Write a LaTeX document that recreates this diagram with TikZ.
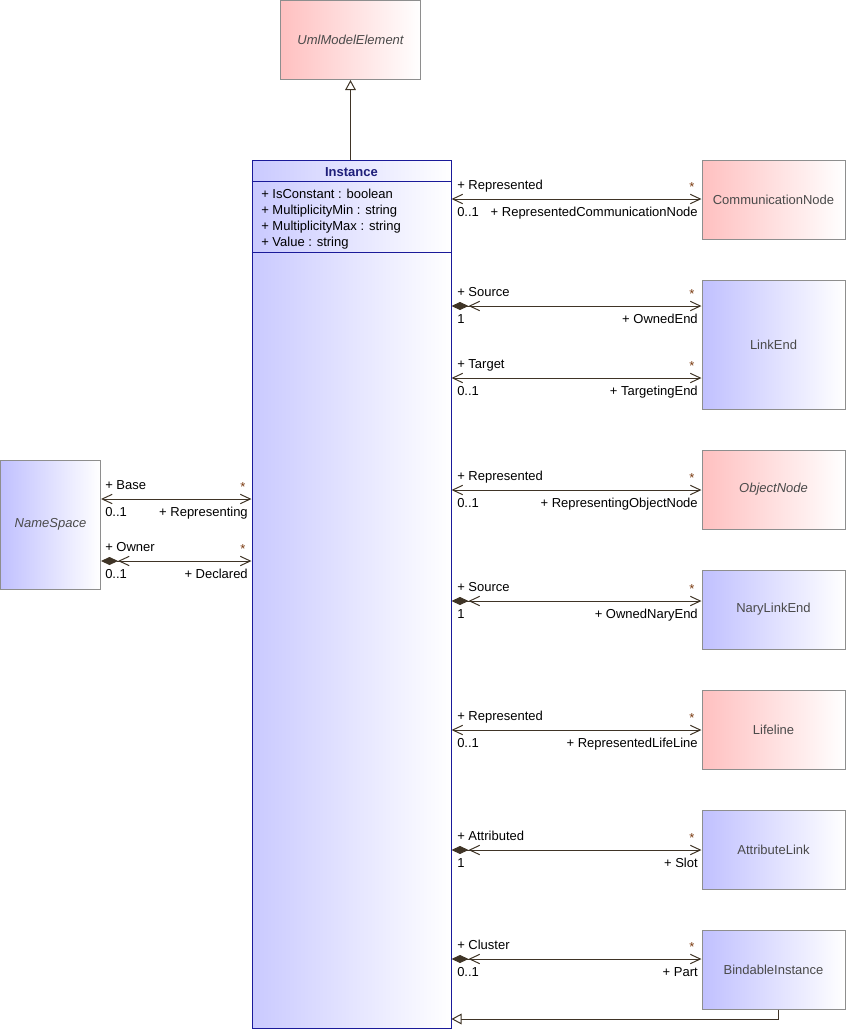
\documentclass[tikz,border=0pt]{standalone}
\usepackage{fontspec}
\setmainfont{Liberation Sans}
\usetikzlibrary{arrows.meta,calc}
\definecolor{linec}{HTML}{3F3426}
\definecolor{boxborder}{HTML}{8E8E8E}
\definecolor{clstext}{HTML}{4A4A4A}
\definecolor{pinkL}{HTML}{FFC0C0}
\definecolor{blueL}{HTML}{C0C0FF}
\definecolor{navyb}{HTML}{1A1A9A}
\definecolor{navyt}{HTML}{1E1E7A}
\definecolor{starc}{HTML}{7A3A10}
\newcommand{\rassoc}[7]{%
  \draw[#1] (inst.east |- 0,#2) -- (#3.west |- 0,#2);
  \node[lbl, anchor=base west] at (457,{#2-10}) {#4};
  \node[lbl, anchor=base west] at (457,{#2+17.5}) {#5};
  \node[starl, anchor=base] at (692,{#2-8}) {#6};
  \node[lbl, anchor=base east] at (698,{#2+17.5}) {#7};
}
\newcommand{\lassoc}[7]{%
  \draw[#1] (#3.east |- 0,#2) -- (inst.west |- 0,#2);
  \node[lbl, anchor=base west] at (105,{#2-10}) {#4};
  \node[lbl, anchor=base west] at (105,{#2+17.5}) {#5};
  \node[starl, anchor=base] at (243,{#2-8}) {#6};
  \node[lbl, anchor=base east] at (248,{#2+17.5}) {#7};
}
\begin{document}
\begin{tikzpicture}[x=0.75pt,y=-0.75pt,
  every node/.style={font=\fontsize{9.75}{11}\selectfont},
  cls/.style={draw=boxborder, line width=0.75pt, minimum height=59.25pt, text=clstext, inner sep=0pt},
  pinkbox/.style={cls, left color=pinkL, right color=white},
  bluebox/.style={cls, left color=blueL, right color=white},
  rbox/.style={minimum width=107.25pt},
  abstr/.style={font=\fontsize{9.75}{11}\selectfont\itshape},
  lbl/.style={inner sep=0pt, text=black},
  starl/.style={inner sep=0pt, text=starc},
  nav/.style={draw=linec, line width=0.75pt,
    {Straight Barb[length=7.5pt,width=7pt]}-{Straight Barb[length=7.5pt,width=7pt]}},
  comp/.style={draw=linec, line width=0.75pt,
    {Diamond[length=12.75pt,width=6pt] Straight Barb[length=7.5pt,width=7pt]}-{Straight Barb[length=7.5pt,width=7pt]}},
  gen/.style={draw=linec, line width=0.75pt, -{Triangle[open,length=7.5pt,width=8pt,fill=white]}}
]
\useasboundingbox (0,0) rectangle (846,1036);

% classes
\node[pinkbox, minimum width=105pt, abstr] (uml) at (350.5,40) {UmlModelElement};
\node[draw=navyb, line width=0.75pt, left color=blueL!85!white, right color=white,
      minimum width=149.25pt, minimum height=651pt, inner sep=0pt] (inst) at (351.5,594) {};
\draw[navyb, line width=0.75pt] (inst.west |- 0,181) -- (inst.east |- 0,181);
\draw[navyb, line width=0.75pt] (inst.west |- 0,252) -- (inst.east |- 0,252);
\node[anchor=base, inner sep=0pt, text=navyt, font=\fontsize{9.75}{11}\selectfont\bfseries] (title) at (351.5,176) {Instance};
\node[lbl, anchor=base west] (a1) at (261,198) {+ IsConstant : boolean};
\node[lbl, anchor=base west] (a2) at (261,214) {+ MultiplicityMin : string};
\node[lbl, anchor=base west] (a3) at (261,230) {+ MultiplicityMax : string};
\node[lbl, anchor=base west] (a4) at (261,246) {+ Value : string};

\node[pinkbox, rbox] (comm) at (773.5,199.5) {CommunicationNode};
\node[bluebox, rbox, minimum height=96.75pt] (linkend) at (773.5,344.5) {LinkEnd};
\node[pinkbox, rbox, abstr] (objnode) at (773.5,489.5) {ObjectNode};
\node[bluebox, rbox] (nary) at (773.5,609.5) {NaryLinkEnd};
\node[pinkbox, rbox] (lifeline) at (773.5,729.5) {Lifeline};
\node[bluebox, rbox] (attrlink) at (773.5,849.5) {AttributeLink};
\node[bluebox, rbox] (bindable) at (773.5,969.5) {BindableInstance};
\node[bluebox, minimum width=75pt, minimum height=96.75pt, abstr] (ns) at (50.5,524.5) {NameSpace};

% generalizations
\draw[gen] (uml.south |- inst.north) -- (uml.south);
\draw[gen] ([xshift=3.4pt]bindable.south) |- (inst.east |- 0,1019);

% associations
\rassoc{nav}{199}{comm}{+ Represented}{0..1}{*}{+ RepresentedCommunicationNode}
\rassoc{comp}{306}{linkend}{+ Source}{1}{*}{+ OwnedEnd}
\rassoc{nav}{378}{linkend}{+ Target}{0..1}{*}{+ TargetingEnd}
\rassoc{nav}{490}{objnode}{+ Represented}{0..1}{*}{+ RepresentingObjectNode}
\rassoc{comp}{601}{nary}{+ Source}{1}{*}{+ OwnedNaryEnd}
\rassoc{nav}{730}{lifeline}{+ Represented}{0..1}{*}{+ RepresentedLifeLine}
\rassoc{comp}{850}{attrlink}{+ Attributed}{1}{*}{+ Slot}
\rassoc{comp}{959}{bindable}{+ Cluster}{0..1}{*}{+ Part}
\lassoc{nav}{499}{ns}{+ Base}{0..1}{*}{+ Representing}
\lassoc{comp}{561}{ns}{+ Owner}{0..1}{*}{+ Declared}
\end{tikzpicture}
\end{document}
